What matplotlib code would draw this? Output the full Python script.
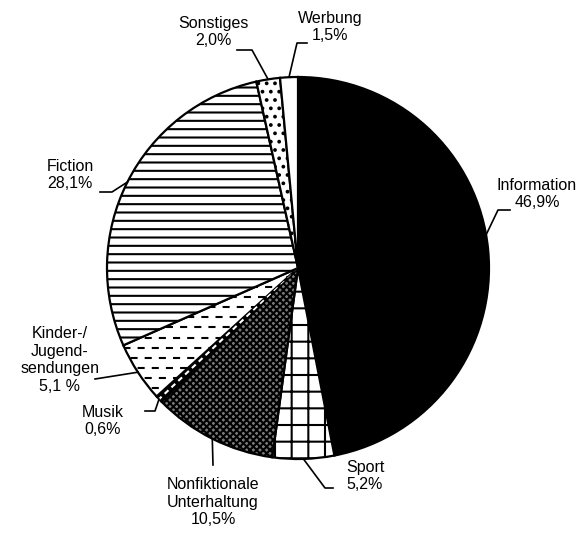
import numpy as np
import matplotlib
matplotlib.use("Agg")
import matplotlib.pyplot as plt

# Data
labels = ["Information\n46,9%", "Sport\n5,2%", "Nonfiktionale\nUnterhaltung\n10,5%",
          "Musik\n0,6%", "Kinder-/\nJugend-\nsendungen\n5,1 %", "Fiction\n28,1%",
          "Sonstiges\n2,0%", "Werbung\n1,5%"]
shares = [46.9, 5.2, 10.5, 0.6, 5.1, 28.1, 2.0, 1.5]

# Styling per slice
faces = ["black", "white", "#7a7a7a", "black", "white", "white", "white", "white"]
hatches = [None, "+", "xxxxx", None, None, "--", "..", None]

# Label layout (pixel positions in the reference: text centre, elbow, line end)
W, H = 583, 534
CX, CY, R = 298, 268, 191
text_px = [(537, 194), (365, 476), (213, 502), (103, 421), (60, 360), (70, 175), (213, 32), (330, 27)]
elbow_px = [(498, 210), (325, 488), (213, 465), (155, 411), (95, 379), (112, 192), (252, 50), (297, 43)]
end_px = [(510, 210), (333, 488), (213, 465), (145, 411), (95, 379), (100, 192), (237, 50), (307, 43)]


def to_data(p):
    return ((p[0] - CX) / R, (CY - p[1]) / R)


plt.rcParams['font.family'] = ['Liberation Sans', 'DejaVu Sans']
plt.rcParams['hatch.linewidth'] = 1.5

fig = plt.figure(figsize=(W / 100, H / 100), dpi=100)
ax = fig.add_axes([(CX - R) / W, (H - CY - R) / H, 2 * R / W, 2 * R / H])

wedges, _ = ax.pie(shares, startangle=90, counterclock=False, colors=faces,
                   wedgeprops=dict(edgecolor="black", linewidth=1.6))
for w, h in zip(wedges, hatches):
    if h:
        w.set_hatch(h)

# Kinder-/Jugend slice: dashed horizontal lines clipped to the wedge
kw = wedges[4]
for i, y in enumerate(np.arange(-1, 1, 0.053)):
    ln, = ax.plot([-1.1, 0.2], [y, y], color="black", lw=1.5,
                  linestyle=((i % 2) * 3.4, (3.4, 3.4)))
    ln.set_clip_path(kw)

# Musik slice: white dashes along the middle of the black wedge
mw = wedges[3]
ma = np.deg2rad((mw.theta1 + mw.theta2) / 2)
ln, = ax.plot([0, np.cos(ma)], [0, np.sin(ma)], color="white", lw=1.5,
              linestyle=(0, (2.5, 2)))
ln.set_clip_path(mw)

ax.set_xlim(-1, 1)
ax.set_ylim(-1, 1)
ax.axis("off")

# Labels and leader lines
for i, w in enumerate(wedges):
    ang = np.deg2rad((w.theta1 + w.theta2) / 2)
    if i == 0:
        ang = np.deg2rad(10)
    edge = (np.cos(ang), np.sin(ang))
    el = to_data(elbow_px[i])
    en = to_data(end_px[i])
    ax.plot([edge[0], el[0], en[0]], [edge[1], el[1], en[1]], color="black",
            lw=1.2, clip_on=False)
    tx, ty = to_data(text_px[i])
    ax.text(tx, ty, labels[i], ha="center", va="center", fontsize=11.5,
            linespacing=1.2)

fig.savefig("out.png", dpi=100)
